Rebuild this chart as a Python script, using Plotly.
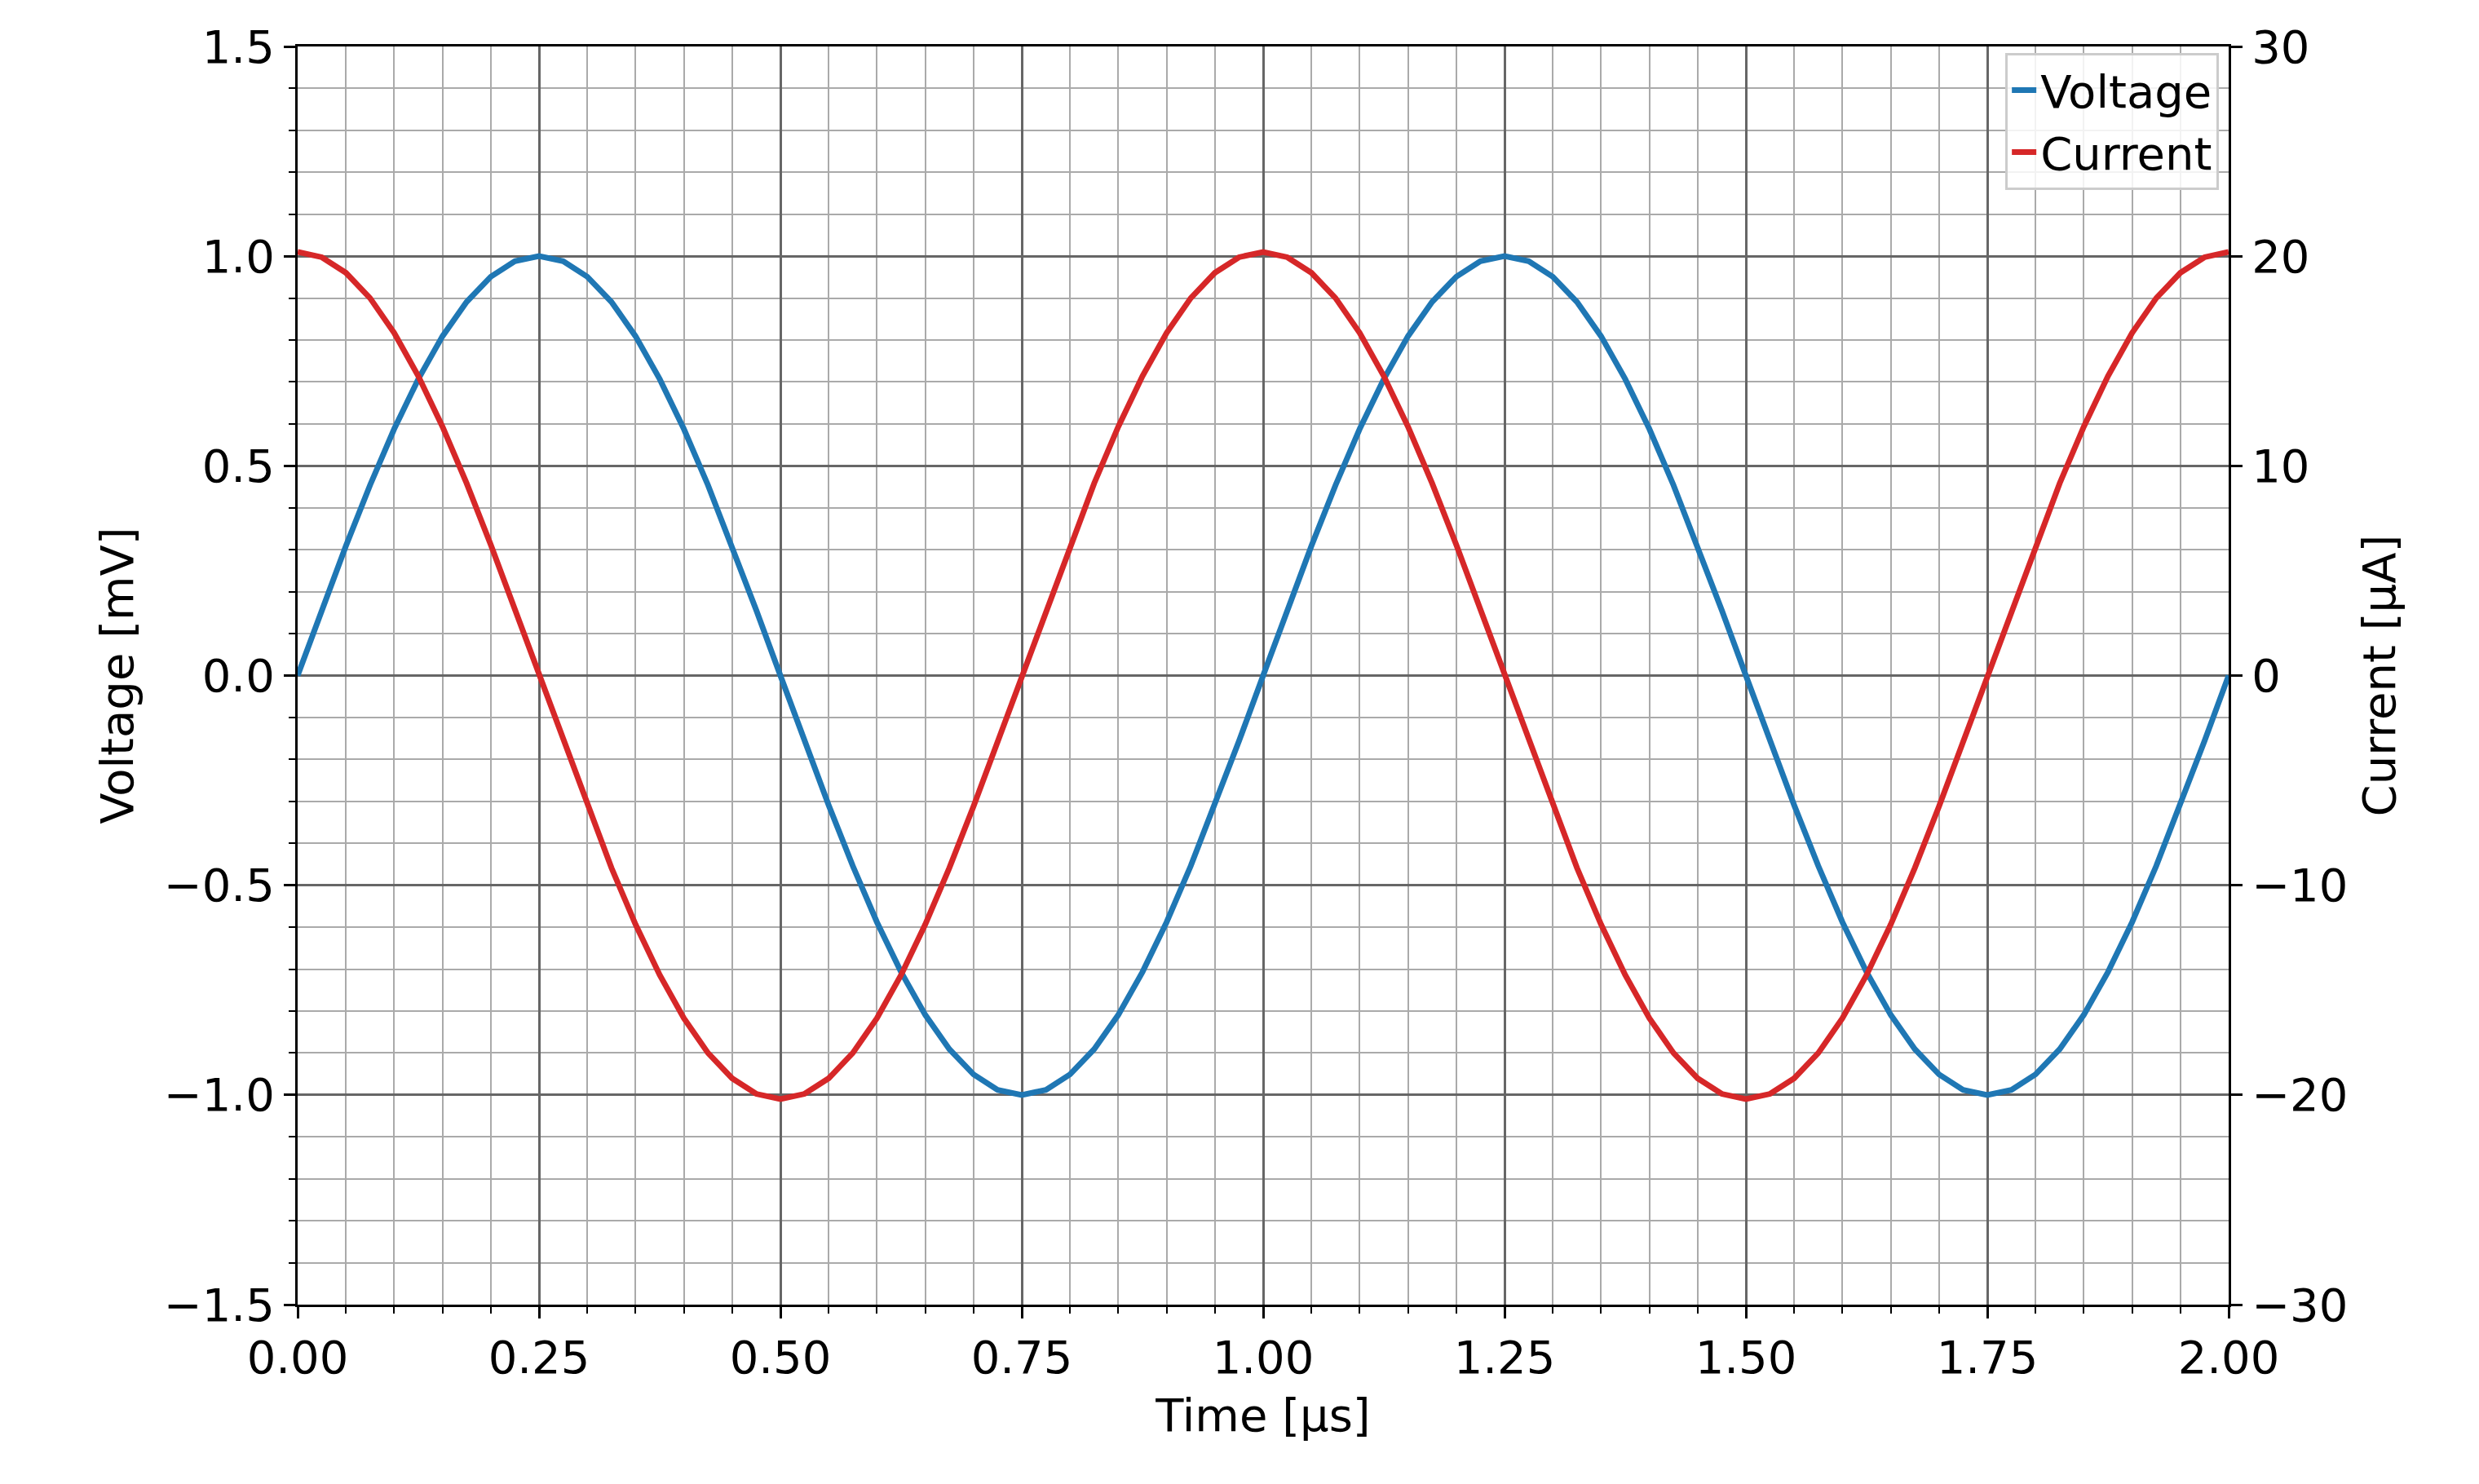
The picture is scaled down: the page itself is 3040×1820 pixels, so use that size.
import plotly.graph_objects as go

time_us = [round(i * 0.025, 3) for i in range(81)]
voltage_mV = [0, 0.156, 0.309, 0.454, 0.588, 0.707, 0.809, 0.891, 0.951, 0.988,
              1.0, 0.988, 0.951, 0.891, 0.809, 0.707, 0.588, 0.454, 0.309, 0.156,
              0, -0.156, -0.309, -0.454, -0.588, -0.707, -0.809, -0.891, -0.951, -0.988,
              -1.0, -0.988, -0.951, -0.891, -0.809, -0.707, -0.588, -0.454, -0.309, -0.156,
              0, 0.156, 0.309, 0.454, 0.588, 0.707, 0.809, 0.891, 0.951, 0.988,
              1.0, 0.988, 0.951, 0.891, 0.809, 0.707, 0.588, 0.454, 0.309, 0.156,
              0, -0.156, -0.309, -0.454, -0.588, -0.707, -0.809, -0.891, -0.951, -0.988,
              -1.0, -0.988, -0.951, -0.891, -0.809, -0.707, -0.588, -0.454, -0.309, -0.156,
              0]
current_uA = [20.2, 19.95, 19.21, 18.0, 16.34, 14.28, 11.87, 9.17, 6.24, 3.16,
              0, -3.16, -6.24, -9.17, -11.87, -14.28, -16.34, -18.0, -19.21, -19.95,
              -20.2, -19.95, -19.21, -18.0, -16.34, -14.28, -11.87, -9.17, -6.24, -3.16,
              0, 3.16, 6.24, 9.17, 11.87, 14.28, 16.34, 18.0, 19.21, 19.95,
              20.2, 19.95, 19.21, 18.0, 16.34, 14.28, 11.87, 9.17, 6.24, 3.16,
              0, -3.16, -6.24, -9.17, -11.87, -14.28, -16.34, -18.0, -19.21, -19.95,
              -20.2, -19.95, -19.21, -18.0, -16.34, -14.28, -11.87, -9.17, -6.24, -3.16,
              0, 3.16, 6.24, 9.17, 11.87, 14.28, 16.34, 18.0, 19.21, 19.95,
              20.2]

FS = 56
fig = go.Figure()
fig.add_trace(go.Scatter(x=time_us, y=voltage_mV, mode="lines", name="Voltage",
                         line=dict(color="#1f77b4", width=7)))
fig.add_trace(go.Scatter(x=time_us, y=current_uA, mode="lines", name="Current", yaxis="y2",
                         line=dict(color="#d62728", width=7)))

common = dict(showline=True, linecolor="black", linewidth=3, ticks="outside",
              ticklen=14, tickwidth=3, tickcolor="black", zeroline=False,
              tickfont=dict(size=FS, color="black"))
fig.update_layout(
    width=3040, height=1820, paper_bgcolor="white", plot_bgcolor="white",
    font=dict(family="DejaVu Sans", size=FS, color="black"),
    margin=dict(l=357, r=315, t=49, b=228),
    xaxis=dict(range=[0, 2], dtick=0.25, tickformat=".2f", title=dict(text="Time [µs]", font=dict(size=FS), standoff=20),
               showgrid=True, gridcolor="#666666", gridwidth=3, mirror=True,
               minor=dict(dtick=0.05, showgrid=True, gridcolor="#aaaaaa", gridwidth=2, ticks="outside",
                          ticklen=8, tickwidth=2, tickcolor="black"), **common),
    yaxis=dict(range=[-1.5, 1.5], dtick=0.5, tickformat=".1f", title=dict(text="Voltage [mV]", font=dict(size=FS), standoff=20),
               showgrid=True, gridcolor="#666666", gridwidth=3, mirror=False,
               minor=dict(dtick=0.1, showgrid=True, gridcolor="#aaaaaa", gridwidth=2, ticks="outside",
                          ticklen=8, tickwidth=2, tickcolor="black"), **common),
    yaxis2=dict(range=[-30, 30], dtick=10, overlaying="y", side="right", showgrid=False, mirror=False,
                title=dict(text="Current [µA]", font=dict(size=FS), standoff=20), **common),
    legend=dict(x=0.995, y=0.995, xanchor="right", yanchor="top", bgcolor="rgba(255,255,255,0.85)",
                bordercolor="#cccccc", borderwidth=3, font=dict(size=FS)),
)
fig.write_html("out.html")
